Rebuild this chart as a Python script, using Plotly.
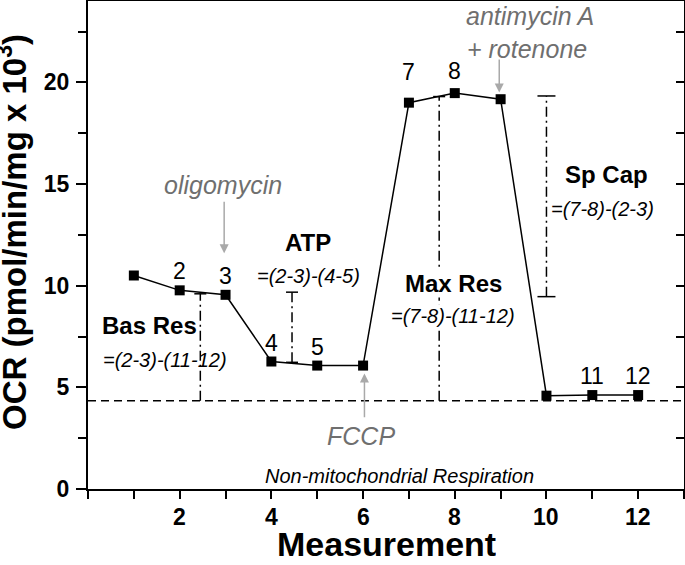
import plotly.graph_objects as go

# ---- data ----
measurement = [1, 2, 3, 4, 5, 6, 7, 8, 9, 10, 11, 12]
ocr = [10.5, 9.77, 9.55, 6.27, 6.07, 6.07, 19.0, 19.47, 19.17, 4.59, 4.62, 4.62]
point_labels = ["", "2", "3", "4", "5", "", "7", "8", "", "", "11", "12"]
non_mito = 4.34

x_tickvals = list(range(0, 14))
x_label_vals = [2, 4, 6, 8, 10, 12]
x_label_text = ["2", "4", "6", "8", "10", "12"]
y_tickvals = [0, 5, 10, 15, 20]
y_ticktext = ["0", "5", "10", "15", "20"]
y_minorvals = [2.5, 7.5, 12.5, 17.5, 22.5]

bracket_names = ["Bas Res", "ATP", "Max Res", "Sp Cap"]
bracket_x = [2.45, 4.45, 7.66, 10.0]
bracket_low = [non_mito, 6.23, non_mito, 9.46]
bracket_high = [9.6, 9.68, 19.3, 19.33]
bracket_top_cap = [True, True, True, True]
bracket_bot_cap = [False, True, False, True]
cap_half = [6, 6, 6, 9]

FONT = "Arial, Liberation Sans, sans-serif"
GRAY_TXT = "#6f6f6f"
GRAY_ARR = "#a9a9a9"

fig = go.Figure()
fig.add_trace(go.Scatter(
    x=measurement, y=ocr, mode="lines+markers",
    line=dict(color="black", width=1.5),
    marker=dict(symbol="square", size=10, color="black"),
    showlegend=False, hoverinfo="skip"))
# hidden trace so the right axis (inward ticks) is drawn
fig.add_trace(go.Scatter(x=measurement, y=ocr, yaxis="y2", mode="lines",
                         opacity=0, showlegend=False, hoverinfo="skip"))

shapes = []
shapes.append(dict(type="line", xref="paper", x0=0, x1=1, yref="y",
                   y0=non_mito, y1=non_mito,
                   line=dict(color="black", width=1.5, dash="8px,5px")))
for bx, lo, hi, tc, bc, ch in zip(bracket_x, bracket_low, bracket_high,
                                  bracket_top_cap, bracket_bot_cap, cap_half):
    shapes.append(dict(type="line", xref="x", yref="y", x0=bx, x1=bx, y0=lo, y1=hi,
                       line=dict(color="black", width=1.5, dash="10px,4px,2px,4px")))
    if tc:
        shapes.append(dict(type="line", xref="x", yref="y", xsizemode="pixel",
                           xanchor=bx, x0=-ch, x1=ch, y0=hi, y1=hi,
                           line=dict(color="black", width=1.5)))
    if bc:
        shapes.append(dict(type="line", xref="x", yref="y", xsizemode="pixel",
                           xanchor=bx, x0=-ch, x1=ch, y0=lo, y1=lo,
                           line=dict(color="black", width=1.5)))

ann = []
label_shift = {"7": 31, "8": 22}
for xv, yv, t in zip(measurement, ocr, point_labels):
    if t:
        ann.append(dict(x=xv, y=yv, text=t, showarrow=False, yshift=label_shift.get(t, 19),
                        font=dict(family=FONT, size=23, color="black")))

# x tick labels
for xv, t in zip(x_label_vals, x_label_text):
    ann.append(dict(x=xv, xref="x", y=0, yref="paper", yanchor="middle", yshift=-28,
                    text="<b>" + t + "</b>", showarrow=False,
                    font=dict(family=FONT, size=23, color="black")))
# axis titles
ann.append(dict(x=0.5, xref="paper", y=0, yref="paper", yanchor="middle", yshift=-55,
                height=34, text="<b>Measurement</b>", showarrow=False,
                font=dict(family=FONT, size=34, color="black")))
ann.append(dict(x=0, xref="paper", y=0.5, yref="paper", xanchor="center", xshift=-76,
                yshift=13, textangle=-90,
                text="<b>OCR (pmol/min/mg x 10<sup>3</sup>)</b>",
                showarrow=False, font=dict(family=FONT, size=33, color="black")))

def txt(x, y, s, size, color="black", bold=False, italic=False, bg=None):
    if bold:
        s = "<b>" + s + "</b>"
    if italic:
        s = "<i>" + s + "</i>"
    d = dict(x=x, y=y, xref="x", yref="y", text=s, showarrow=False,
             font=dict(family=FONT, size=size, color=color))
    if bg:
        d["bgcolor"] = bg
        d["borderpad"] = 0
    ann.append(d)

txt(1.35, 8.03, "Bas Res", 24, bold=True)
txt(1.67, 6.34, "=(2-3)-(11-12)", 20, italic=True)
txt(4.79, 12.11, "ATP", 24, bold=True)
txt(4.82, 10.5, "=(2-3)-(4-5)", 20, italic=True)
txt(7.97, 10.09, "Max Res", 24, bold=True, bg="white")
txt(7.97, 8.53, "=(7-8)-(11-12)", 20, italic=True, bg="white")
txt(11.31, 15.46, "Sp Cap", 24, bold=True)
txt(11.22, 13.78, "=(7-8)-(2-3)", 20, italic=True)
txt(2.95, 14.93, "oligomycin", 25, color=GRAY_TXT, italic=True)
txt(9.64, 23.25, "antimycin A", 25, color=GRAY_TXT, italic=True)
txt(9.57, 21.65, "+ rotenone", 25, color=GRAY_TXT, italic=True)
txt(5.95, 2.6, "FCCP", 25, color=GRAY_TXT, italic=True)
txt(6.8, 0.66, "Non-mitochondrial Respiration", 20, italic=True)

def arrow(x, y_tail, y_tip):
    ann.append(dict(x=x, y=y_tip, ax=x, ay=y_tail, xref="x", yref="y",
                    axref="x", ayref="y", text="", showarrow=True,
                    arrowhead=2, arrowsize=1.2, arrowwidth=1.5, arrowcolor=GRAY_ARR,
                    standoff=0))

arrow(2.97, 14.2, 11.6)
arrow(8.97, 21.2, 19.5)
arrow(6.03, 3.45, 5.68)

fig.update_layout(
    width=685, height=565,
    margin=dict(l=88, r=1, t=1, b=76, autoexpand=False),
    paper_bgcolor="white", plot_bgcolor="white",
    shapes=shapes, annotations=ann,
    xaxis=dict(range=[0, 13], tickvals=x_tickvals, showticklabels=False,
               ticks="outside", ticklen=8, tickwidth=1.5, tickcolor="black",
               showline=True, linecolor="black", linewidth=2, mirror=True,
               showgrid=False, zeroline=False, automargin=False),
    yaxis=dict(range=[0, 24], tickvals=y_tickvals,
               ticktext=["<b>" + t + "</b>" for t in y_ticktext],
               ticks="outside", ticklen=10, tickwidth=1.5, tickcolor="black",
               minor=dict(tickvals=y_minorvals, ticks="outside", ticklen=8,
                          tickwidth=1.5, tickcolor="black", showgrid=False),
               showline=True, linecolor="black", linewidth=2, mirror=True,
               showgrid=False, zeroline=False, automargin=False,
               tickfont=dict(family=FONT, size=23, color="black"),
               ticklabelstandoff=2),
    yaxis2=dict(range=[0, 24], tickvals=y_tickvals + y_minorvals, showticklabels=False,
                overlaying="y", side="right", anchor="x",
                ticks="inside", ticklen=8, tickwidth=1.5, tickcolor="black",
                showline=False, showgrid=False, zeroline=False),
)

fig.write_html("out.html", config={"displayModeBar": False},
               post_script="document.body.style.margin='0px';")
